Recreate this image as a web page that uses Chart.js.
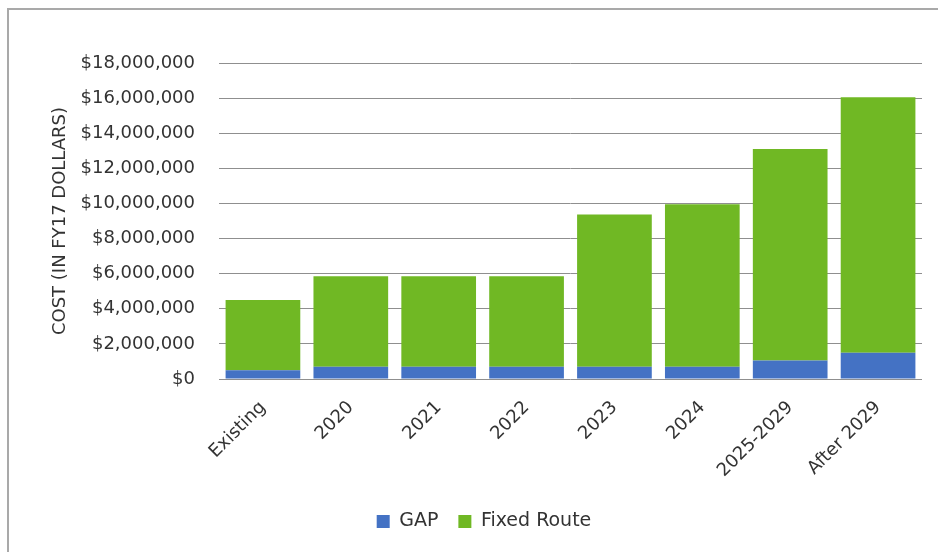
<!DOCTYPE html>
<html>
<head>
<meta charset="utf-8">
<script src="https://cdn.jsdelivr.net/npm/chart.js@4/dist/chart.umd.min.js"></script>
<style>
  body { margin: 0; background: #fff; }
  #frame { position: absolute; left: 7px; top: 8px; width: 960px; height: 560px;
           border-left: 2px solid #a9a9a9; border-top: 2px solid #a9a9a9; }
  #wrap { position: absolute; left: 0; top: 0; width: 938px; height: 552px; }
</style>
</head>
<body>
<div id="frame"></div>
<div id="wrap"><canvas id="c"></canvas></div>
<script>
const labels = ['Existing', '2020', '2021', '2022', '2023', '2024', '2025-2029', 'After 2029']
const gap = [500000, 700000, 700000, 700000, 700000, 700000, 1050000, 1500000]
const fixedRoute = [4000000, 5150000, 5150000, 5150000, 8670000, 9250000, 12050000, 14550000]

const font = "'DejaVu Sans', sans-serif"
const textColor = '#333333'

new Chart(document.getElementById('c'), {
  type: 'bar',
  data: {
    labels: labels,
    datasets: [
      { label: 'GAP', data: gap, backgroundColor: '#4472C4' },
      { label: 'Fixed Route', data: fixedRoute, backgroundColor: '#70B824' }
    ]
  },
  options: {
    responsive: true,
    maintainAspectRatio: false,
    animation: false,
    datasets: { bar: { categoryPercentage: 1, barPercentage: 0.85 } },
    layout: { padding: { left: 46, right: 16, top: 63, bottom: 11 } },
    plugins: {
      tooltip: { enabled: false },
      legend: {
        position: 'bottom',
        labels: { boxWidth: 13, boxHeight: 13, color: textColor, font: { family: font, size: 19 }, padding: 20 }
      }
    },
    scales: {
      x: {
        stacked: true,
        grid: { display: false },
        border: { display: false },
        ticks: { color: textColor, font: { family: font, size: 18 }, minRotation: 45, maxRotation: 45, padding: 10 },
        afterFit: s => { s.height = 113 }
      },
      y: {
        stacked: true,
        min: 0,
        max: 18000000,
        border: { display: false },
        grid: { color: '#8f8f8f', lineWidth: 1, drawTicks: false },
        ticks: {
          stepSize: 2000000,
          padding: 24,
          color: textColor,
          font: { family: font, size: 18 },
          callback: v => '$' + v.toLocaleString('en-US')
        },
        title: { display: true, text: 'COST (IN FY17 DOLLARS)', color: textColor, font: { family: font, size: 18 } },
        afterFit: s => { s.width = 173 }
      }
    }
  }
})
</script>
</body>
</html>
